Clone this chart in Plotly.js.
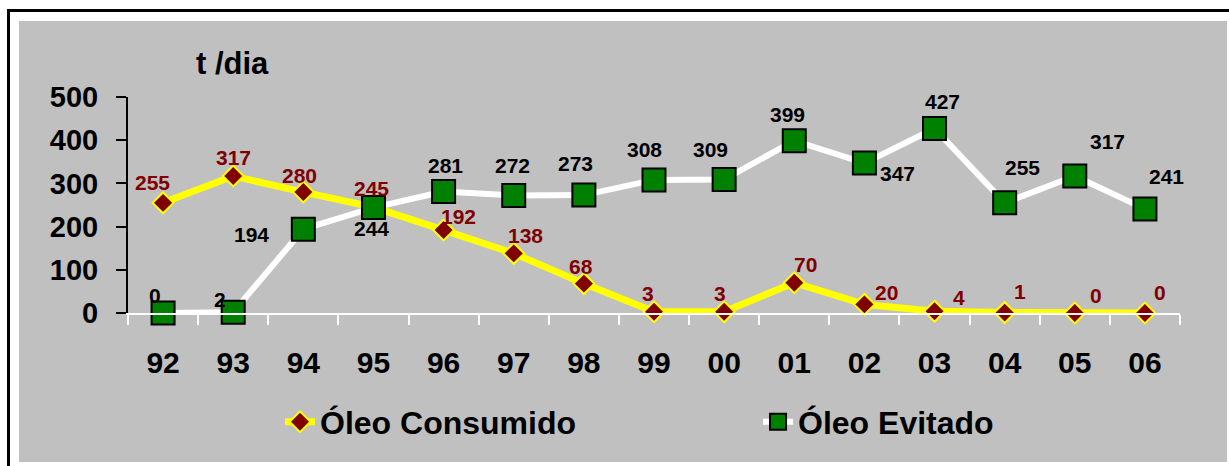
<!DOCTYPE html>
<html><head><meta charset="utf-8">
<script src="https://cdn.plot.ly/plotly-3.0.1.min.js"></script>
<style>
body{margin:0;background:#fff;width:1229px;height:466px;overflow:hidden;position:relative}
#frame{position:absolute;left:7px;top:9px;width:1240px;height:470px;border:3px solid #000;box-sizing:border-box}
#gray{position:absolute;left:19px;top:21px;width:1208px;height:441px;background:#c0c0c0}
#chart{position:absolute;left:0;top:0;width:1229px;height:466px}
</style></head>
<body>
<div id="frame"></div><div id="gray"></div><div id="chart"></div>
<script>
// ---- data ----
const years = ["92","93","94","95","96","97","98","99","00","01","02","03","04","05","06"];
const oleoConsumido = [255,317,280,245,192,138,68,3,3,70,20,4,1,0,0];
const oleoEvitado = [0,2,194,244,281,272,273,308,309,399,347,427,255,317,241];
const yTicks = [0,100,200,300,400,500];
const unitLabel = "t /dia";

// ---- label offsets (pixels, style only) ----
const offConsumidoX = [-11,0,-4,-2,15,12,-3,-6,-4,11,22,24,15,21,15];
const offConsumidoY = [20,19,17,19,14,18,17,18,18,18,12,14,21,18,21];
const offEvitadoX = [-8,-13,-52,-2,2,-1,-8,-10,-14,-7,33,8,18,33,22];
const offEvitadoY = [18,13,-5,-21,26,30,32,30,30,26,-10,27,35,35,32];

const font = "Liberation Sans, Arial, sans-serif";

const traces = [
  {
    x: years, y: oleoConsumido, name: "Óleo Consumido", type: "scatter",
    mode: "lines+markers", legend: "legend",
    line: {color: "#ffff00", width: 7},
    marker: {symbol: "diamond", size: 16, color: "#800000", line: {color: "#ffff00", width: 2}},
    cliponaxis: false
  },
  {
    x: years, y: oleoEvitado, name: "Óleo Evitado", type: "scatter",
    mode: "lines+markers", legend: "legend2",
    line: {color: "#ffffff", width: 6},
    marker: {symbol: "square", size: 23, color: "#008000", line: {color: "#000000", width: 2}},
    cliponaxis: false
  }
];

const annotations = [];
years.forEach((yr, i) => {
  // category axis: position annotations by category index
  annotations.push({x: i, y: oleoConsumido[i], text: String(oleoConsumido[i]), showarrow: false,
    xanchor: "center", yanchor: "middle", xshift: offConsumidoX[i], yshift: offConsumidoY[i],
    font: {family: font, size: 21, color: "#800000", weight: "bold"}});
  annotations.push({x: i, y: oleoEvitado[i], text: String(oleoEvitado[i]), showarrow: false,
    xanchor: "center", yanchor: "middle", xshift: offEvitadoX[i], yshift: offEvitadoY[i],
    font: {family: font, size: 21, color: "#000000", weight: "bold"}});
});
annotations.push({text: unitLabel, xref: "paper", yref: "paper", x: 0.0998, y: 1.153,
  xanchor: "center", yanchor: "middle", showarrow: false,
  font: {family: font, size: 31, color: "#000", weight: "bold"}});

const legendFont = {family: font, size: 32, color: "#000", weight: "bold"};
const layout = {
  width: 1229, height: 466,
  margin: {l: 128, r: 49, t: 97, b: 153},
  paper_bgcolor: "rgba(0,0,0,0)", plot_bgcolor: "rgba(0,0,0,0)",
  font: {family: font, color: "#000"},
  showlegend: true,
  legend: {orientation: "h", x: 0.1445, xanchor: "left", y: -0.5046, yanchor: "middle",
           font: legendFont, bgcolor: "rgba(0,0,0,0)"},
  legend2: {orientation: "h", x: 0.5989, xanchor: "left", y: -0.5046, yanchor: "middle",
           font: legendFont, bgcolor: "rgba(0,0,0,0)"},
  xaxis: {type: "category", range: [-0.5, 14.5], showgrid: false, zeroline: false,
          showline: true, linecolor: "#ffffff", linewidth: 2,
          ticks: "outside", tickson: "boundaries", ticklen: 10, tickwidth: 2, tickcolor: "#ffffff",
          ticklabelstandoff: 22, automargin: false,
          tickfont: {family: font, size: 30, color: "#000", weight: "bold"}},
  yaxis: {range: [0, 500], tickvals: yTicks, showgrid: false, zeroline: false,
          showline: true, linecolor: "#000", linewidth: 2,
          ticks: "outside", ticklen: 10, tickwidth: 2, tickcolor: "#000",
          ticklabelstandoff: 12, automargin: false,
          tickfont: {family: font, size: 29, color: "#000", weight: "bold"}},
  annotations: annotations
};

Plotly.newPlot("chart", traces, layout, {displayModeBar: false, staticPlot: true});
</script>
</body></html>
